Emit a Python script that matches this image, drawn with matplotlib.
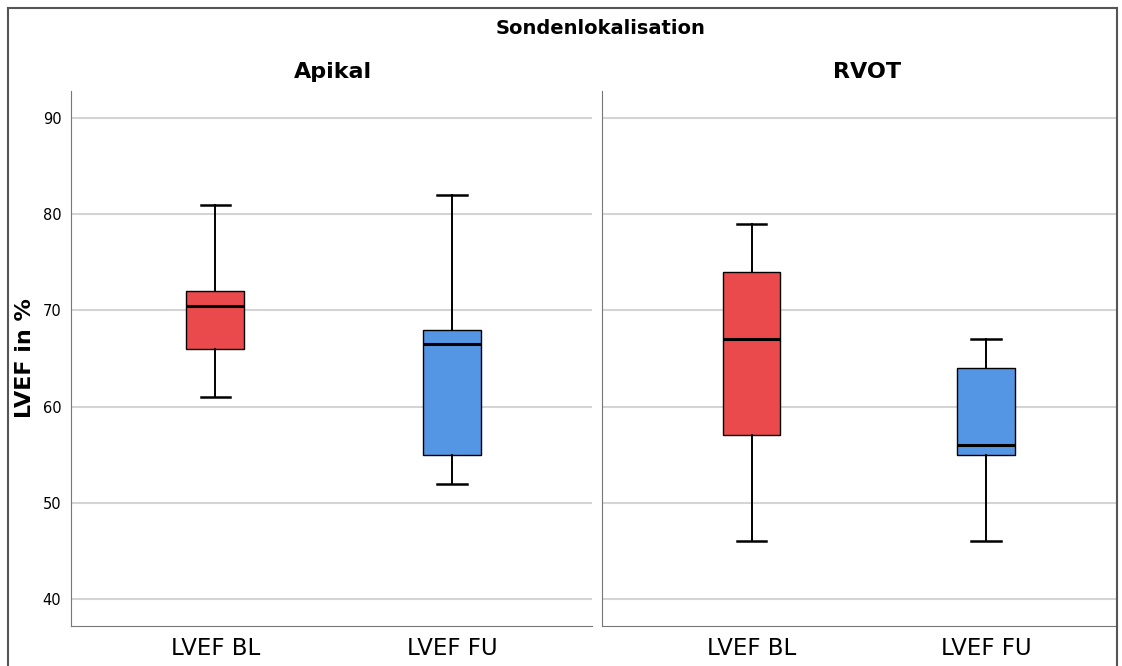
import matplotlib
matplotlib.use("Agg")
from matplotlib import pyplot as plt
from matplotlib.lines import Line2D

# Boxplot-Kennwerte je Sondenlokalisation
panels = ['Apikal', 'RVOT']
categories = ['LVEF BL', 'LVEF FU']
whislo = {'Apikal': [61, 52], 'RVOT': [46, 46]}
q1 = {'Apikal': [66, 55], 'RVOT': [57, 55]}
med = {'Apikal': [70.5, 66.5], 'RVOT': [67, 56]}
q3 = {'Apikal': [72, 68], 'RVOT': [74, 64]}
whishi = {'Apikal': [81, 82], 'RVOT': [79, 67]}
box_colors = ['#ea4a4b', '#5596e4']
yticks = [40, 50, 60, 70, 80, 90]

W, H = 1122, 666
fig = plt.figure(figsize=(W / 100, H / 100), dpi=100)

def px(x0, y0, x1, y1):
    return [x0 / W, 1 - y1 / H, (x1 - x0) / W, (y1 - y0) / H]

axes_px = {'Apikal': (71, 91, 592, 626), 'RVOT': (602, 91, 1117, 626)}
xlims = {'Apikal': (0.39, 2.59), 'RVOT': (0.36, 2.56)}
title_x = {'Apikal': 333, 'RVOT': 867}

for i, name in enumerate(panels):
    ax = fig.add_axes(px(*axes_px[name]))
    stats = []
    for j in range(len(categories)):
        stats.append({'whislo': whislo[name][j], 'q1': q1[name][j], 'med': med[name][j],
                      'q3': q3[name][j], 'whishi': whishi[name][j], 'fliers': []})
    bp = ax.bxp(stats, positions=[1, 2], widths=0.245, patch_artist=True,
                showfliers=False,
                boxprops=dict(edgecolor='black', linewidth=1.0),
                medianprops=dict(color='black', linewidth=2.2),
                whiskerprops=dict(color='black', linewidth=1.4),
                capprops=dict(color='black', linewidth=1.8),
                capwidths=0.125, zorder=3)
    for patch, c in zip(bp['boxes'], box_colors):
        patch.set_facecolor(c)
    ax.set_xlim(*xlims[name])
    ax.set_ylim(37.2, 92.8)
    ax.set_yticks(yticks)
    ax.yaxis.grid(True, color='#d4d4d4', linewidth=1.5, zorder=0)
    ax.set_axisbelow(True)
    ax.set_xticks([1, 2])
    ax.set_xticklabels(categories, fontsize=16.5)
    ax.tick_params(axis='both', length=0)
    ax.tick_params(axis='x', pad=8)
    ax.tick_params(axis='y', pad=7, labelsize=10.5)
    for s in ['top', 'right']:
        ax.spines[s].set_visible(False)
    ax.spines['left'].set_color('#777777')
    ax.spines['bottom'].set_color('#777777')
    if i == 0:
        ax.set_ylabel('LVEF in %', fontsize=16, fontweight='bold')
        ax.yaxis.set_label_coords((35 - 71) / 521, 0.5)
    else:
        ax.set_yticklabels([])
    fig.text(title_x[name] / W, 1 - 72 / H, name, ha='center', va='center',
             fontsize=16, fontweight='bold')

fig.text(601 / W, 1 - 28 / H, 'Sondenlokalisation', ha='center', va='center',
         fontsize=14, fontweight='bold')

# aeusserer Rahmen
frame_kw = dict(color='#555555', linewidth=1.5, transform=fig.transFigure)
fig.add_artist(Line2D([8 / W, 8 / W], [0, 1 - 8 / H], **frame_kw))
fig.add_artist(Line2D([8 / W, 1117 / W], [1 - 8 / H, 1 - 8 / H], **frame_kw))
fig.add_artist(Line2D([1117 / W, 1117 / W], [0, 1 - 8 / H], **frame_kw))

fig.savefig('out.png', dpi=100)
